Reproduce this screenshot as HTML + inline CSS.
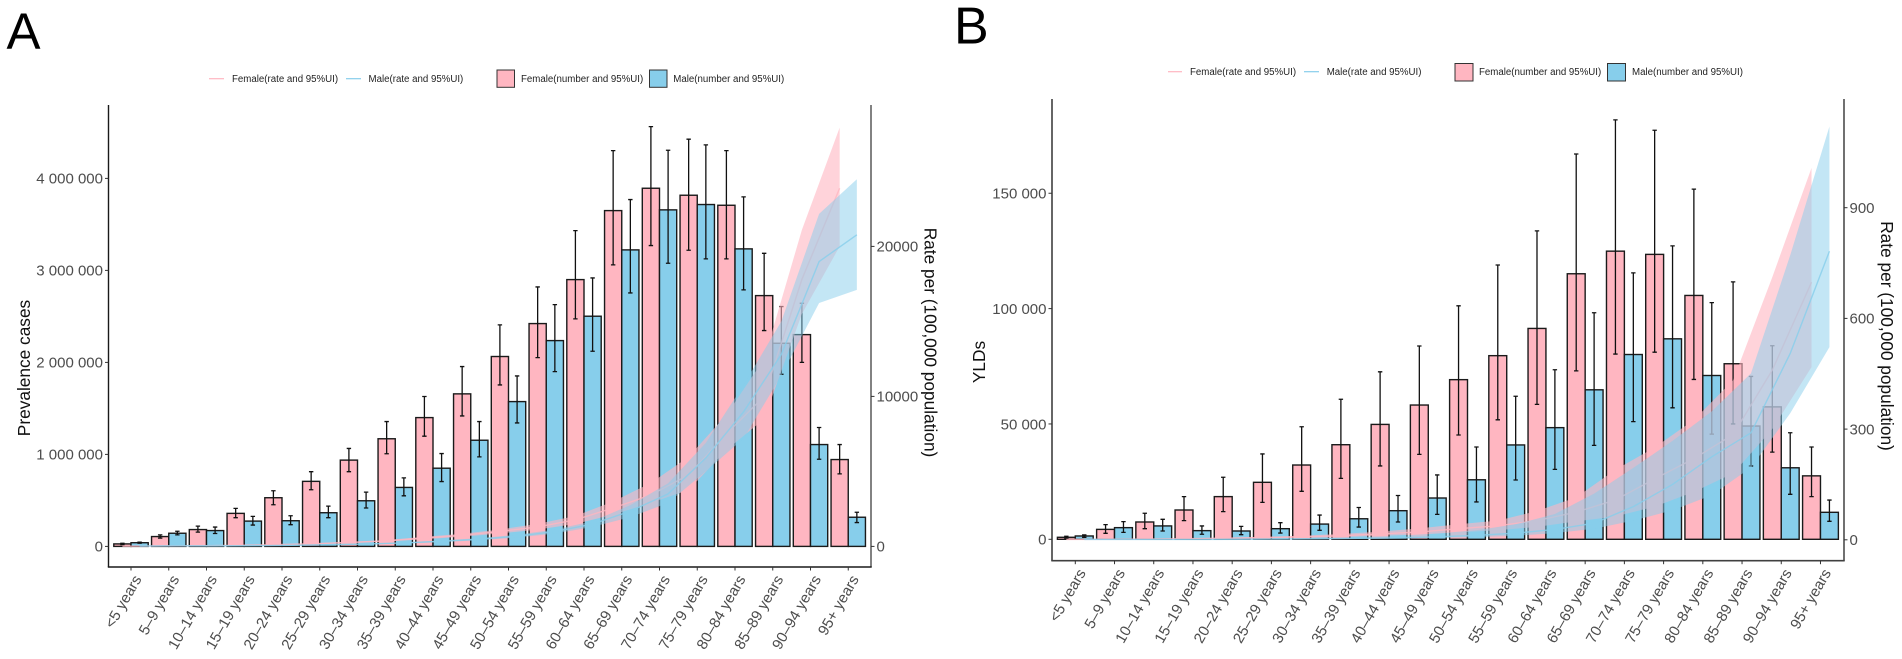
<!DOCTYPE html>
<html lang="en">
<head>
<meta charset="utf-8">
<title>Prevalence and YLDs by age and sex</title>
<style>
html,body{margin:0;padding:0;background:#fff;width:1902px;height:659px;overflow:hidden}
svg{display:block;font-family:"Liberation Sans",Arial,sans-serif}
.lg{font-size:9.7px;fill:#222}
.ttl{font-size:17.3px;fill:#111}
</style>
</head>
<body>
<svg id="fig" xmlns="http://www.w3.org/2000/svg" width="1902" height="659" viewBox="0 0 1902 659">
  <rect width="1902" height="659" fill="#fff"/>
  <text x="6.5" y="49" font-size="51" fill="#000">A</text>
  <text x="954" y="43.5" font-size="52" fill="#000">B</text>

  <g id="panelA"></g>
  <g id="panelB"></g>

  <text class="ttl" text-anchor="middle" transform="translate(30,368) rotate(-90)">Prevalence cases</text>
  <text class="ttl" text-anchor="middle" transform="translate(924.5,342.5) rotate(90)">Rate per (100,000 population)</text>
  <text class="ttl" text-anchor="middle" transform="translate(985,362) rotate(-90)">YLDs</text>
  <text class="ttl" text-anchor="middle" transform="translate(1881,336) rotate(90)">Rate per (100,000 population)</text>

  <g>
    <line x1="209" x2="224" y1="78.7" y2="78.7" stroke="#FFB6C1" stroke-width="1.2"/>
    <text class="lg" x="232" y="82">Female(rate and 95%UI)</text>
    <line x1="346" x2="361" y1="78.7" y2="78.7" stroke="#87CEEB" stroke-width="1.2"/>
    <text class="lg" x="368.5" y="82">Male(rate and 95%UI)</text>
    <rect x="497" y="70" width="17.5" height="17.3" fill="#FFB6C1" stroke="#333" stroke-width="1"/>
    <text class="lg" x="521" y="82">Female(number and 95%UI)</text>
    <rect x="649.5" y="70" width="17.5" height="17.3" fill="#87CEEB" stroke="#333" stroke-width="1"/>
    <text class="lg" x="673.3" y="82">Male(number and 95%UI)</text>
  </g>
  <g>
    <line x1="1168" x2="1182" y1="71.7" y2="71.7" stroke="#FFB6C1" stroke-width="1.2"/>
    <text class="lg" x="1190" y="75">Female(rate and 95%UI)</text>
    <line x1="1304" x2="1319" y1="71.7" y2="71.7" stroke="#87CEEB" stroke-width="1.2"/>
    <text class="lg" x="1326.7" y="75">Male(rate and 95%UI)</text>
    <rect x="1455" y="63.5" width="18" height="17.5" fill="#FFB6C1" stroke="#333" stroke-width="1"/>
    <text class="lg" x="1479" y="75">Female(number and 95%UI)</text>
    <rect x="1607.5" y="63.5" width="18" height="17.5" fill="#87CEEB" stroke="#333" stroke-width="1"/>
    <text class="lg" x="1632" y="75">Male(number and 95%UI)</text>
  </g>
</svg>
<script>
var ageGroups = ["<5 years","5–9 years","10–14 years","15–19 years","20–24 years","25–29 years","30–34 years","35–39 years","40–44 years","45–49 years","50–54 years","55–59 years","60–64 years","65–69 years","70–74 years","75–79 years","80–84 years","85–89 years","90–94 years","95+ years"];

/* Panel A: prevalence cases */
var aFemaleNumber = [27000,107000,183000,359000,529000,707000,938000,1170000,1400000,1658000,2064000,2422000,2900000,3650000,3893000,3817000,3708000,2726000,2302000,944000];
var aFemaleNumberLow = [20000,90000,155000,312000,453000,616000,812000,1007000,1198000,1418000,1755000,2052000,2473000,3060000,3270000,3219000,3125000,2346000,2000000,788000];
var aFemaleNumberHigh = [34000,125000,220000,413000,605000,812000,1065000,1357000,1629000,1955000,2408000,2820000,3432000,4302000,4563000,4426000,4302000,3186000,2643000,1107000];
var aMaleNumber = [40000,143000,172000,275000,279000,366000,496000,641000,850000,1154000,1574000,2237000,2502000,3223000,3658000,3716000,3234000,2208000,1107000,317000];
var aMaleNumberLow = [34000,125000,140000,232000,236000,312000,417000,550000,705000,973000,1342000,1900000,2121000,2755000,3078000,3125000,2788000,1871000,947000,259000];
var aMaleNumberHigh = [46000,165000,210000,326000,333000,438000,590000,745000,1009000,1357000,1853000,2628000,2918000,3770000,4306000,4364000,3799000,2607000,1292000,371000];
var aFemaleRate = [15,30,40,70,110,170,260,370,560,740,1000,1300,1770,2560,3430,4770,7500,10000,17800,23880];
var aFemaleRateLow = [12,24,32,55,90,145,220,320,480,640,860,1120,1500,2120,2900,3770,6430,8500,15500,20000];
var aFemaleRateHigh = [20,36,50,85,130,200,300,430,640,840,1130,1500,2030,2990,4230,5970,8770,12500,21100,27920];
var aMaleRate = [20,38,35,50,70,110,160,230,340,480,680,990,1490,2350,3500,5900,8970,12800,18990,20770];
var aMaleRateLow = [16,31,28,40,55,90,130,190,290,410,590,850,1300,1950,2900,5000,7200,11400,16230,17100];
var aMaleRateHigh = [25,45,42,60,85,130,190,270,400,550,780,1130,1680,2750,4200,6900,10770,15000,22170,24480];
var aLeftTicks = [0,1000000,2000000,3000000,4000000];
var aLeftLabels = ["0","1 000 000","2 000 000","3 000 000","4 000 000"];
var aRightTicks = [0,10000,20000];
var aRightLabels = ["0","10000","20000"];

/* Panel B: YLDs */
var bFemaleNumber = [870,4300,7500,12700,18500,24700,32200,41000,49800,58200,69200,79600,91400,115100,124900,123500,105700,76100,57400,27500];
var bFemaleNumberLow = [500,2600,4600,8100,12000,16000,20800,26400,31800,36800,45200,51800,58500,73000,80300,81100,69300,50000,37800,18500];
var bFemaleNumberHigh = [1300,6350,11300,18500,26900,37000,48800,60700,72600,83800,101200,118900,133700,167000,181800,177300,151800,111600,83900,40000];
var bMaleNumber = [1440,5050,5800,3750,3600,4600,6600,8900,12400,17900,25800,40900,48400,64800,80100,86900,71000,49100,31000,11700];
var bMaleNumberLow = [870,3000,3600,2200,2000,2700,3900,5300,7500,10800,16200,25700,30300,40700,51000,57000,45600,31800,19500,7800];
var bMaleNumberHigh = [1900,7650,8670,5800,5600,7200,10500,13800,19000,27900,40000,62000,73500,98200,115500,127200,102600,70600,46200,17000];
var bFemaleRate = [1,1.5,2,3,4,6,8,11,16,21,30,38,52,75,108,165,220,285,460,698];
var bFemaleRateLow = [0.5,1,1,2,3,4,5,7,11,14,20,26,35,50,63,90,130,180,300,468];
var bFemaleRateHigh = [1.5,2,3,4,6,8,11,16,22,31,42,52,78,115,190,250,325,432,712,1008];
var bMaleRate = [1,1,1,1,1.5,2,3,4,5.5,8,12,18,28,45,90,150,225,290,505,782];
var bMaleRateLow = [0.5,0.5,0.5,0.5,1,1,1.5,2,3,5,7,11,18,30,52,80,121,196,343,522];
var bMaleRateHigh = [1.5,1.5,1.5,1.5,2.5,3.5,5,7.5,11,17,26,42,70,125,195,268,348,451,771,1120];
var bLeftTicks = [0,50000,100000,150000];
var bLeftLabels = ["0","50 000","100 000","150 000"];
var bRightTicks = [0,300,600,900];
var bRightLabels = ["0","300","600","900"];

var NS = "http://www.w3.org/2000/svg";
function make(parent, tag, attrs) {
  var node = document.createElementNS(NS, tag);
  for (var k in attrs) node.setAttribute(k, attrs[k]);
  parent.appendChild(node);
  return node;
}

function drawPanel(g, cfg, d) {
  function xCat(i) { return cfg.x0 + cfg.step * i; }
  function yNum(v) { return cfg.yZero - v * cfg.numScale; }
  function yRate(v) { return cfg.rateZero - v * cfg.rateScale; }
  var FILL_F = "#FFB6C1", FILL_M = "#87CEEB";
  var i, n;

  /* bars */
  for (i = 0; i < ageGroups.length; i++) {
    var yf = yNum(d.fN[i]);
    n = make(g, "rect", {x: xCat(i) - cfg.barW, y: yf, width: cfg.barW, height: cfg.yZero - yf, fill: FILL_F, stroke: "#1a1a1a", "stroke-width": cfg.barStroke});
    
    
    var ym = yNum(d.mN[i]);
    n = make(g, "rect", {x: xCat(i), y: ym, width: cfg.barW, height: cfg.yZero - ym, fill: FILL_M, stroke: "#1a1a1a", "stroke-width": cfg.barStroke});
    
    
  }

  /* error bars */
  function whisker(cx, lo, hi, name) {
    var w = make(g, "path", {
      d: "M" + (cx - 2.2) + " " + yNum(hi) + "H" + (cx + 2.2) + "M" + cx + " " + yNum(hi) + "V" + yNum(lo) + "M" + (cx - 2.2) + " " + yNum(lo) + "H" + (cx + 2.2),
      fill: "none", stroke: "#111", "stroke-width": 1.3
    });
    
    
  }
  for (i = 0; i < ageGroups.length; i++) {
    whisker(xCat(i) - cfg.barW / 2, d.fNL[i], d.fNH[i], 'female-error-bar');
    whisker(xCat(i) + cfg.barW / 2, d.mNL[i], d.mNH[i], 'male-error-bar');
  }

  /* ribbons and rate lines */
  function ribbon(off, lo, hi, fill, opacity) {
    var top = [], bot = [];
    for (var j = 0; j < ageGroups.length; j++) {
      top.push((xCat(j) + off) + "," + yRate(hi[j]));
      bot.unshift((xCat(j) + off) + "," + yRate(lo[j]));
    }
    return make(g, "polygon", {points: top.concat(bot).join(" "), fill: fill, "fill-opacity": opacity, stroke: "none"});
  }
  function rateLine(off, vals, color) {
    var pts = [];
    for (var j = 0; j < ageGroups.length; j++) pts.push((xCat(j) + off) + "," + yRate(vals[j]));
    return make(g, "polyline", {points: pts.join(" "), fill: "none", stroke: color, "stroke-width": 1.4, "stroke-opacity": 0.8});
  }
  n = ribbon(-cfg.barW / 2, d.fRL, d.fRH, FILL_F, 0.6);
  
  
  n = rateLine(-cfg.barW / 2, d.fR, FILL_F);
  
  
  n = ribbon(cfg.barW / 2, d.mRL, d.mRH, FILL_M, 0.5);
  
  
  n = rateLine(cfg.barW / 2, d.mR, FILL_M);
  
  

  /* axis lines */
  n = make(g, "line", {x1: cfg.left, x2: cfg.left, y1: cfg.top, y2: cfg.bottom, stroke: cfg.leftColor, "stroke-width": cfg.axisW});
  
  
  n = make(g, "line", {x1: cfg.right, x2: cfg.right, y1: cfg.top, y2: cfg.bottom, stroke: "#4d4d4d", "stroke-width": cfg.axisW});
  
  
  n = make(g, "line", {x1: cfg.left - 0.7, x2: cfg.right + 0.7, y1: cfg.bottom, y2: cfg.bottom, stroke: cfg.leftColor, "stroke-width": cfg.axisW});
  
  

  /* left ticks */
  d.leftTicks.forEach(function (v, k) {
    var t = make(g, "line", {x1: cfg.left - 3.5, x2: cfg.left, y1: yNum(v), y2: yNum(v), stroke: "#333", "stroke-width": 1});
    
    
    var lb = make(g, "text", {x: cfg.left - 5.5, y: yNum(v) + 5.3, "text-anchor": "end", "font-size": 15, fill: "#4d4d4d"});
    lb.textContent = d.leftLabels[k];
    
    
  });

  /* right ticks */
  d.rightTicks.forEach(function (v, k) {
    var t = make(g, "line", {x1: cfg.right, x2: cfg.right + 3.5, y1: yRate(v), y2: yRate(v), stroke: "#333", "stroke-width": 1});
    
    
    var lb = make(g, "text", {x: cfg.right + 5.5, y: yRate(v) + 5.3, "font-size": 15, fill: "#4d4d4d"});
    lb.textContent = d.rightLabels[k];
    
    
  });

  /* x ticks */
  ageGroups.forEach(function (label, k) {
    var cx = xCat(k);
    var t = make(g, "line", {x1: cx, x2: cx, y1: cfg.bottom, y2: cfg.bottom + 3.5, stroke: "#333", "stroke-width": 1});
    
    
    var ax = cx + 11, ay = cfg.bottom + 12;
    var lb = make(g, "text", {"text-anchor": "end", "font-size": 15, fill: "#4d4d4d", transform: "translate(" + ax + "," + ay + ") rotate(-60)"});
    lb.textContent = label;
    
    
  });
}

drawPanel(document.getElementById("panelA"),
  {x0: 131, step: 37.75, barW: 17.2, barStroke: 1.4, yZero: 546.4, numScale: 92 / 1000000, rateZero: 546.4, rateScale: 0.015,
   left: 108.5, right: 871, top: 105, bottom: 567, axisW: 1.4, leftColor: "#1a1a1a"},
  {fN: aFemaleNumber, fNL: aFemaleNumberLow, fNH: aFemaleNumberHigh, mN: aMaleNumber, mNL: aMaleNumberLow, mNH: aMaleNumberHigh,
   fR: aFemaleRate, fRL: aFemaleRateLow, fRH: aFemaleRateHigh, mR: aMaleRate, mRL: aMaleRateLow, mRH: aMaleRateHigh,
   leftTicks: aLeftTicks, leftLabels: aLeftLabels, rightTicks: aRightTicks, rightLabels: aRightLabels});

drawPanel(document.getElementById("panelB"),
  {x0: 1075.3, step: 39.22, barW: 17.9, barStroke: 1.4, yZero: 539.3, numScale: 115.35 / 50000, rateZero: 539.8, rateScale: 0.369,
   left: 1052, right: 1844, top: 99, bottom: 560.7, axisW: 1.6, leftColor: "#404040"},
  {fN: bFemaleNumber, fNL: bFemaleNumberLow, fNH: bFemaleNumberHigh, mN: bMaleNumber, mNL: bMaleNumberLow, mNH: bMaleNumberHigh,
   fR: bFemaleRate, fRL: bFemaleRateLow, fRH: bFemaleRateHigh, mR: bMaleRate, mRL: bMaleRateLow, mRH: bMaleRateHigh,
   leftTicks: bLeftTicks, leftLabels: bLeftLabels, rightTicks: bRightTicks, rightLabels: bRightLabels});
</script>
</body>
</html>
